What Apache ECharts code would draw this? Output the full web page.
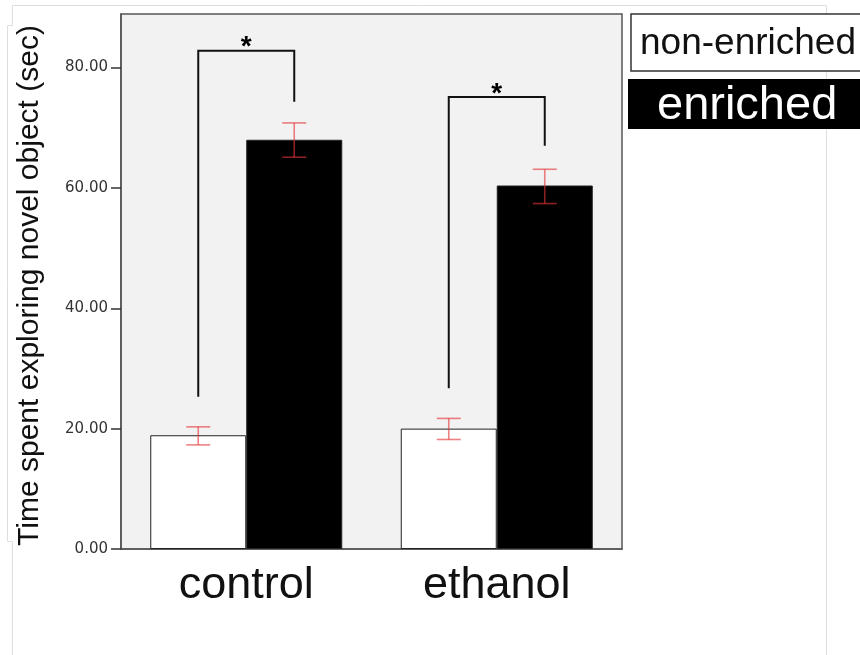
<!DOCTYPE html>
<html>
<head>
<meta charset="utf-8">
<script src="https://cdn.jsdelivr.net/npm/echarts@6/dist/echarts.min.js"></script>
<style>
  html, body { margin: 0; padding: 0; background: #fff; }
  #main { width: 860px; height: 655px; }
</style>
</head>
<body>
<div id="main"></div>
<script>
// data
const groups = ['control', 'ethanol'];
const nonEnriched = [18.9, 20.0];
const enriched = [68.0, 60.4];
// error bars: [group index, high, low]
const nonEnrichedErr = [[0, 20.3, 17.3], [1, 21.7, 18.2]];
const enrichedErr = [[0, 70.8, 65.1], [1, 63.1, 57.4]];
// significance brackets: [group index, top, left foot, right foot]
const brackets = [[0, 82.8, 25.3, 74.3], [1, 75.1, 26.7, 67.0]];
const yTicks = [0, 20, 40, 60, 80];

const BAR_W = 96;
const font = '"Liberation Sans", Arial, Helvetica, sans-serif';

let chart = echarts.init(document.getElementById('main'));

function errorItem(offset) {
    return function (params, api) {
        const idx = api.value(0);
        const x = api.coord([idx, 0])[0] + offset;
        const hi = api.coord([idx, api.value(1)])[1];
        const lo = api.coord([idx, api.value(2)])[1];
        const style = { stroke: 'rgba(228,52,52,0.62)', lineWidth: 1.6 };
        return {
            type: 'group',
            children: [
                { type: 'line', shape: { x1: x, y1: hi, x2: x, y2: lo }, style: style },
                { type: 'line', shape: { x1: x - 12, y1: hi, x2: x + 12, y2: hi }, style: style },
                { type: 'line', shape: { x1: x - 12, y1: lo, x2: x + 12, y2: lo }, style: style }
            ]
        };
    };
}

function bracketItem(params, api) {
    const idx = api.value(0);
    const cx = api.coord([idx, 0])[0];
    const xl = cx - BAR_W / 2;
    const xr = cx + BAR_W / 2;
    const top = api.coord([idx, api.value(1)])[1];
    const yl = api.coord([idx, api.value(2)])[1];
    const yr = api.coord([idx, api.value(3)])[1];
    return {
        type: 'group',
        children: [
            {
                type: 'polyline',
                shape: { points: [[xl, yl], [xl, top], [xr, top], [xr, yr]] },
                style: { stroke: '#111', lineWidth: 2, fill: null }
            },
            {
                type: 'text',
                x: cx, y: top - 3,
                style: {
                    text: '*', font: 'bold 28px ' + font, fill: '#000',
                    align: 'center', verticalAlign: 'middle'
                }
            }
        ]
    };
}

let option = {
    backgroundColor: '#fff',
    animation: false,
    grid: {
        left: 121, top: 14, width: 501, height: 535,
        show: true, backgroundColor: '#f2f2f2',
        borderColor: '#555', borderWidth: 1.5
    },
    xAxis: {
        type: 'category',
        data: groups,
        axisLine: { lineStyle: { color: '#555', width: 1.5 } },
        axisTick: { alignWithLabel: true, length: 4, lineStyle: { color: '#333' } },
        axisLabel: { fontSize: 45, fontFamily: font, color: '#111', margin: 14 }
    },
    yAxis: {
        type: 'value',
        min: 0, max: 88.9, interval: 20,
        name: 'Time spent exploring novel object (sec)',
        nameLocation: 'middle',
        nameGap: 76,
        nameTextStyle: { fontSize: 30, fontFamily: font, color: '#111', padding: [0, 8, 0, 0] },
        axisLine: { show: true, lineStyle: { color: '#555', width: 1.5 } },
        axisTick: { show: true, length: 10, lineStyle: { color: '#333', width: 1.5 } },
        axisLabel: {
            fontSize: 15, fontFamily: '"DejaVu Sans", sans-serif', color: '#333', margin: 13,
            showMaxLabel: false,
            formatter: v => (yTicks.indexOf(v) >= 0 ? v.toFixed(2) : '')
        },
        splitLine: { show: false }
    },
    series: [
        {
            name: 'non-enriched', type: 'bar', data: nonEnriched,
            barWidth: BAR_W, barGap: '0%',
            itemStyle: { color: '#fff', borderColor: '#222', borderWidth: 1 }
        },
        {
            name: 'enriched', type: 'bar', data: enriched,
            barWidth: BAR_W, barGap: '0%',
            itemStyle: { color: '#000', borderColor: '#222', borderWidth: 1 }
        },
        { type: 'custom', renderItem: errorItem(-BAR_W / 2), data: nonEnrichedErr, z: 5 },
        { type: 'custom', renderItem: errorItem(BAR_W / 2), data: enrichedErr, z: 5 },
        { type: 'custom', renderItem: bracketItem, data: brackets, z: 6 }
    ],
    graphic: [
        {
            type: 'polyline',
            shape: { points: [[826.5, 655], [826.5, 5.5], [12.5, 5.5], [12.5, 25.5], [7.5, 25.5], [7.5, 541.5], [12.5, 541.5], [12.5, 655]] },
            style: { stroke: '#dedede', lineWidth: 1, fill: null },
            z: -10
        },
        {
            type: 'rect',
            shape: { x: 631, y: 14, width: 240, height: 57 },
            style: { fill: '#fff', stroke: '#333', lineWidth: 1.5 }
        },
        {
            type: 'text', x: 640, y: 44,
            style: { text: 'non-enriched', font: '37px ' + font, fill: '#111', verticalAlign: 'middle' }
        },
        {
            type: 'rect',
            shape: { x: 628, y: 79, width: 240, height: 50 },
            style: { fill: '#000' }
        },
        {
            type: 'text', x: 657, y: 106,
            style: { text: 'enriched', font: '47px ' + font, fill: '#fff', verticalAlign: 'middle' }
        }
    ]
};

option && chart.setOption(option);
</script>
</body>
</html>
